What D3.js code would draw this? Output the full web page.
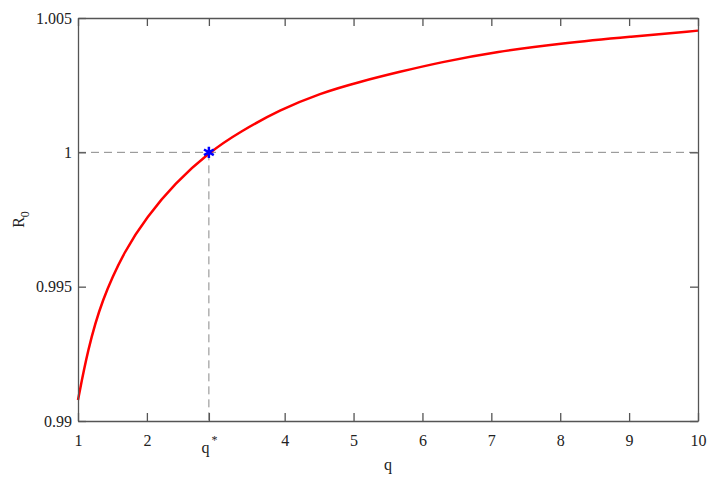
<!DOCTYPE html>
<html>
<head>
<meta charset="utf-8">
<script src="https://cdn.jsdelivr.net/npm/d3@7"></script>
<style>
  body { margin: 0; background: #fff; }
  text { font-family: "Liberation Serif", "Times New Roman", serif; fill: #222; }
</style>
</head>
<body>
<script>
// curve
let qVals = [1, 1.141, 1.344, 1.682, 1.997, 2.408, 2.9, 3.352, 3.932, 4.513, 5.094, 5.674, 6.255, 7.078, 8.04, 9.013, 10];
let rVals = [0.99078, 0.99264, 0.99450, 0.99637, 0.99759, 0.99885, 1.0, 1.00077, 1.00158, 1.00220, 1.00263, 1.00300, 1.00335, 1.00375, 1.00406, 1.00430, 1.00453];
let qStar = 2.9, rStar = 1.0;
let xTicks = [1, 2, qStar, 4, 5, 6, 7, 8, 9, 10];
let xTickLabels = ["1", "2", "q*", "4", "5", "6", "7", "8", "9", "10"];
let yTicks = [0.99, 0.995, 1, 1.005];
let yTickLabels = ["0.99", "0.995", "1", "1.005"];

let data = qVals.map(function(q, i) { return { q: q, r: rVals[i] }; });

let width = 716, height = 481,
    pLeft = 78, pRight = 698, pTop = 18, pBottom = 421;

let svg = d3.select('body').append('svg')
    .attr('width', width)
    .attr('height', height);

let x = d3.scaleLinear().domain([1, 10]).range([pLeft, pRight]);
let y = d3.scaleLinear().domain([0.99, 1.005]).range([pBottom, pTop]);

// dashed guides
svg.append('line')
    .attr('x1', x(1)).attr('x2', x(10))
    .attr('y1', y(rStar)).attr('y2', y(rStar))
    .attr('stroke', '#888').attr('stroke-width', 1)
    .attr('stroke-dasharray', '8,5');
svg.append('line')
    .attr('x1', x(qStar)).attr('x2', x(qStar))
    .attr('y1', y(rStar)).attr('y2', y(0.99))
    .attr('stroke', '#888').attr('stroke-width', 1)
    .attr('stroke-dasharray', '8,5');

// curve
let line = d3.line()
    .x(function(d) { return x(d.q); })
    .y(function(d) { return y(d.r); })
    .curve(d3.curveBasis);
svg.append('path')
    .datum(data)
    .attr('d', line)
    .attr('fill', 'none')
    .attr('stroke', '#ff0000')
    .attr('stroke-width', 2.5);

// axes, ticks inside on all four sides
let axStyle = function(g) {
    g.select('.domain').attr('stroke', '#555').attr('stroke-width', 1.3);
    g.selectAll('.tick line').attr('stroke', '#555').attr('stroke-width', 1.3);
    g.selectAll('.tick text').style('font-size', '16px').attr('fill', '#222');
};
let axisB = d3.axisBottom(x).tickValues(xTicks).tickSizeInner(-8).tickSizeOuter(0)
    .tickFormat(function(d, i) { return xTickLabels[i]; }).tickPadding(14);
let gB = svg.append('g').attr('transform', `translate(0,${pBottom})`).call(axisB).call(axStyle);
gB.selectAll('.tick text').filter(function(d, i) { return xTickLabels[i] == 'q*'; })
    .text('q').attr('dy', '1.1em')
    .append('tspan').text('*').attr('dy', '-0.75em').style('font-size', '12px').attr('dx', '2');

let axisT = d3.axisTop(x).tickValues(xTicks).tickSizeInner(-8).tickSizeOuter(0).tickFormat('');
svg.append('g').attr('transform', `translate(0,${pTop})`).call(axisT).call(axStyle);

let axisL = d3.axisLeft(y).tickValues(yTicks).tickSizeInner(-8).tickSizeOuter(0)
    .tickFormat(function(d, i) { return yTickLabels[i]; }).tickPadding(6);
svg.append('g').attr('transform', `translate(${pLeft},0)`).call(axisL).call(axStyle);

let axisR = d3.axisRight(y).tickValues(yTicks).tickSizeInner(-8).tickSizeOuter(0).tickFormat('');
svg.append('g').attr('transform', `translate(${pRight},0)`).call(axisR).call(axStyle);

// star marker
svg.append('path')
    .attr('d', d3.symbol().type(d3.symbolAsterisk).size(90))
    .attr('transform', `translate(${x(qStar)},${y(rStar)})`)
    .attr('fill', 'none')
    .attr('stroke', '#0000ff')
    .attr('stroke-width', 2.5);

// axis titles
svg.append('text')
    .attr('x', (pLeft + pRight) / 2).attr('y', 470)
    .attr('text-anchor', 'middle')
    .style('font-size', '16px')
    .text('q');
let yl = svg.append('text')
    .attr('transform', 'translate(24,' + ((pTop + pBottom) / 2) + ') rotate(-90)')
    .attr('text-anchor', 'middle')
    .style('font-size', '16px')
    .text('R');
yl.append('tspan').text('0').attr('dy', '5').style('font-size', '12px');
</script>
</body>
</html>
